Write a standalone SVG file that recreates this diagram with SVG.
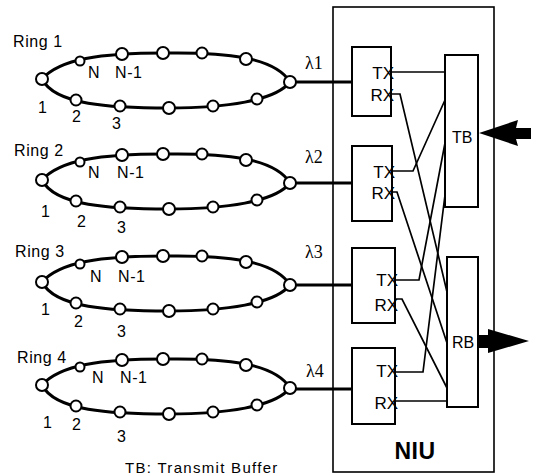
<svg xmlns="http://www.w3.org/2000/svg" width="536" height="475" viewBox="0 0 536 475">
<defs>
<style>
text{font-family:"Liberation Sans",Arial,sans-serif;font-size:16px;fill:#000;letter-spacing:0.6px}
.lam{font-family:"Liberation Serif","Times New Roman",serif;font-size:18px;letter-spacing:0}
.trx{font-size:17px;letter-spacing:0;text-anchor:end}
.buf{font-size:16px;letter-spacing:0}
.ring{fill:none;stroke:#000;stroke-width:3}
.nd{fill:#fff;stroke:#000;stroke-width:2}
.box{fill:#fff;stroke:#000;stroke-width:2}
.ln{fill:none;stroke:#000;stroke-width:1.7}
.feed{fill:none;stroke:#000;stroke-width:3}
</style>
<g id="ringshape">
<path class="ring" d="M42,-2 C60,-22 100,-28 165,-28 C225,-29 275,-24 290,1 C275,20 225,27 169,27 C110,27 55,24 42,-2"/>
<circle class="nd" cx="42" cy="-2" r="6"/>
<circle class="nd" cx="80" cy="-20" r="4.5"/>
<circle class="nd" cx="122" cy="-27" r="6"/>
<circle class="nd" cx="163" cy="-28" r="6"/>
<circle class="nd" cx="202" cy="-28" r="5.5"/>
<circle class="nd" cx="246" cy="-22" r="6"/>
<circle class="nd" cx="290" cy="1" r="6"/>
<circle class="nd" cx="76" cy="19" r="5.5"/>
<circle class="nd" cx="120" cy="25" r="5.5"/>
<circle class="nd" cx="169" cy="27" r="6"/>
<circle class="nd" cx="213" cy="25" r="5.5"/>
<circle class="nd" cx="257" cy="18" r="5.5"/>
</g>
</defs>

<g id="niu">
<rect x="333" y="7" width="161" height="465" fill="none" stroke="#000" stroke-width="1.6"/>
<text x="415" y="459" text-anchor="middle" style="font-size:23px;font-weight:bold;letter-spacing:0.5px">NIU</text>
</g>

<g id="connectors">
<path class="feed" d="M290,82 H352"/>
<path class="feed" d="M290,183 H352"/>
<path class="feed" d="M290,285 H352"/>
<path class="feed" d="M290,389 H352"/>
<path class="ln" d="M391,72 H445"/>
<path class="ln" d="M391,94 H400 L447,292"/>
<path class="ln" d="M392,171 H413 L445,100"/>
<path class="ln" d="M392,192 H397 L447,343"/>
<path class="ln" d="M395,280 H419 L445,143"/>
<path class="ln" d="M395,299 H402 L447,388"/>
<path class="ln" d="M395,372 H423 L445,195"/>
<path class="ln" d="M395,401 H447"/>
<polygon points="479,133 518,120 516,128 531,128 531,139 516,139 518,146" fill="#000"/>
<polygon points="478,335 488,335 488,329 529,341 488,353 488,348 478,348" fill="#000"/>
</g>

<g id="ring1">
<use href="#ringshape" transform="translate(0,81)"/>
<text x="13" y="47">Ring 1</text>
<text x="88" y="78">N</text>
<text x="115" y="78">N-1</text>
<text x="38" y="113">1</text>
<text x="72" y="122">2</text>
<text x="112" y="129">3</text>
<text class="lam" x="305" y="69">λ1</text>
</g>

<g id="ring2">
<use href="#ringshape" transform="translate(0,182)"/>
<text x="14" y="156">Ring 2</text>
<text x="88" y="178">N</text>
<text x="117" y="178">N-1</text>
<text x="41" y="217">1</text>
<text x="77" y="227">2</text>
<text x="117" y="233">3</text>
<text class="lam" x="305" y="163">λ2</text>
</g>

<g id="ring3">
<use href="#ringshape" transform="translate(0,284)"/>
<text x="15" y="257">Ring 3</text>
<text x="90" y="282">N</text>
<text x="118" y="282">N-1</text>
<text x="41" y="315">1</text>
<text x="74" y="327">2</text>
<text x="117" y="337">3</text>
<text class="lam" x="305" y="258">λ3</text>
</g>

<g id="ring4">
<use href="#ringshape" transform="translate(0,387)"/>
<text x="17" y="363">Ring 4</text>
<text x="92" y="383">N</text>
<text x="120" y="383">N-1</text>
<text x="43" y="428">1</text>
<text x="72" y="430">2</text>
<text x="117" y="442">3</text>
<text class="lam" x="306" y="377">λ4</text>
</g>

<g id="trx1">
<rect class="box" x="352" y="47" width="39" height="69"/>
<text class="trx" x="394" y="79">TX</text>
<text class="trx" x="394" y="101">RX</text>
</g>
<g id="trx2">
<rect class="box" x="352" y="146" width="40" height="75"/>
<text class="trx" x="395" y="178">TX</text>
<text class="trx" x="395" y="199">RX</text>
</g>
<g id="trx3">
<rect class="box" x="352" y="248" width="43" height="75"/>
<text class="trx" x="398" y="286">TX</text>
<text class="trx" x="398" y="311">RX</text>
</g>
<g id="trx4">
<rect class="box" x="352" y="348" width="43" height="76"/>
<text class="trx" x="398" y="377">TX</text>
<text class="trx" x="398" y="409">RX</text>
</g>

<g id="tb">
<rect x="445" y="55" width="33" height="152" fill="none" stroke="#000" stroke-width="2"/>
<text class="buf" x="452" y="143">TB</text>
</g>
<g id="rb">
<rect x="447" y="257" width="31" height="150" fill="none" stroke="#000" stroke-width="2"/>
<text class="buf" x="452" y="348">RB</text>
</g>

<text x="125" y="473" style="font-size:15px;letter-spacing:1.3px">TB: Transmit Buffer</text>
</svg>
